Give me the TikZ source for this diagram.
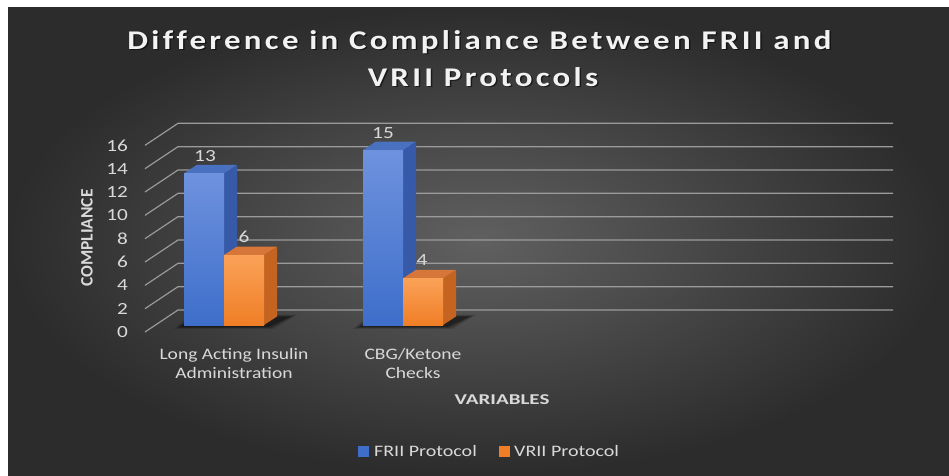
\documentclass[tikz,border=0pt]{standalone}
\usepackage{fontspec}
\usepackage{graphicx}
\setmainfont{Carlito}
\newfontfamily\titlefont[LetterSpace=10,Ligatures={NoCommon}]{Carlito}
\newcommand{\sx}[2]{\scalebox{#1}[1]{#2}}
\definecolor{bgin}{RGB}{96,96,96}
\definecolor{bgout}{RGB}{44,44,44}
\definecolor{gridc}{RGB}{155,155,155}
\definecolor{txt}{RGB}{217,217,217}
\definecolor{ttl}{RGB}{242,242,242}
\definecolor{bfrontT}{RGB}{110,146,222}
\definecolor{bfrontB}{RGB}{62,110,202}
\definecolor{bside}{RGB}{54,90,168}
\definecolor{btop}{RGB}{74,112,192}
\definecolor{ofrontT}{RGB}{250,162,88}
\definecolor{ofrontB}{RGB}{240,126,38}
\definecolor{oside}{RGB}{196,100,32}
\definecolor{otop}{RGB}{214,118,56}
\begin{document}
\begin{tikzpicture}[x=1pt,y=-1pt,
  gridline/.style={draw=gridc,line width=1.2pt},
  ticklbl/.style={anchor=east,text=txt,font=\fontsize{17}{20}\selectfont,inner sep=0pt},
  datalbl/.style={text=txt,font=\fontsize{17}{20}\selectfont,inner sep=0pt},
  catlbl/.style={text=txt,font=\fontsize{16}{19}\selectfont,anchor=base,inner sep=0pt},
  axttl/.style={text=txt,font=\bfseries\fontsize{15}{18}\selectfont,inner sep=0pt},
  legtxt/.style={text=txt,font=\fontsize{16}{19}\selectfont,anchor=west,inner sep=0pt},
  ttlstyle/.style={font=\titlefont\bfseries\fontsize{27}{32}\selectfont,anchor=base,inner sep=0pt}
]
\useasboundingbox (0,0) rectangle (949,475);
\fill[white] (0,0) rectangle (949,475);
\shade[inner color=bgin,outer color=bgout] (8,7) rectangle (949,475);

% grid
\foreach \v in {0,2,...,16}{
  \pgfmathsetmacro{\yf}{332-\v*11.667}
  \pgfmathsetmacro{\yb}{310-\v*11.667}
  \draw[gridline] (145,\yf) -- (178,\yb) -- (893,\yb);
  \node[ticklbl] (t\v) at (128,\yf) {\sx{1.25}{\v}};
}

% shadows
\foreach \xa in {184,363}{
  \foreach \e/\o in {6/0.12,4/0.15,2/0.2,0/0.25}{
    \fill[black,opacity=\o] (\xa-4-\e,327+\e*0.3) -- (\xa+80+4+\e,327+\e*0.3) -- (\xa+80+13+14+\e,316.5-\e*0.3) -- (\xa+13-\e,316.5-\e*0.3) -- cycle;
  }
}

% bars: x1, x2, top, colour prefix
\newcommand{\mybar}[5]{%
  \fill[#4side] (#2,325) -- (#2+13,316.5) -- (#2+13,#3-8.5) -- (#2,#3) -- cycle;
  \fill[#4top] (#1,#3) -- (#1+13,#3-8.5) -- (#2+13,#3-8.5) -- (#2,#3) -- cycle;
  \shade[top color=#4frontT,bottom color=#4frontB] (#1,#3) rectangle (#2,325);
}
\mybar{184}{224}{173.3}{b}{}
\mybar{224}{264}{255}{o}{}
\mybar{363}{403}{150}{b}{}
\mybar{403}{443}{278.3}{o}{}

% data labels
\node[datalbl] (d1) at (205,156) {\sx{1.25}{13}};
\node[datalbl] (d2) at (244,237) {\sx{1.25}{6}};
\node[datalbl] (d3) at (383,133) {\sx{1.25}{15}};
\node[datalbl] (d4) at (422,260) {\sx{1.25}{4}};

% category labels
\node[catlbl] (c1a) at (234,359) {\sx{1.22}{Long Acting Insulin}};
\node[catlbl] (c1b) at (234,378) {\sx{1.22}{Administration}};
\node[catlbl] (c2a) at (413,359) {\sx{1.22}{CBG/Ketone}};
\node[catlbl] (c2b) at (413,378) {\sx{1.22}{Checks}};

% axis titles
\node[axttl,rotate=90,font=\bfseries\fontsize{17.5}{20}\selectfont] (yt) at (87,238) {COMPLIANCE};
\node[axttl] (xt) at (502,400) {\sx{1.4}{VARIABLES}};

% title with shadow
\foreach \dx/\col/\op in {1.5/black/0.55}{
  \node[ttlstyle,text=\col,opacity=\op] at (479.5+\dx,49+\dx) {\sx{1.22}{Difference in Compliance Between FRII and}};
  \node[ttlstyle,text=\col,opacity=\op] at (483+\dx,86+\dx) {\sx{1.22}{VRII Protocols}};
}
\node[ttlstyle,text=ttl] (title1) at (479.5,49) {\sx{1.22}{Difference in Compliance Between FRII and}};
\node[ttlstyle,text=ttl] (title2) at (483,86) {\sx{1.22}{VRII Protocols}};

% legend
\fill[bfrontB] (358,446) rectangle (369,457);
\node[legtxt] (l1) at (374,451) {\sx{1.25}{FRII Protocol}};
\fill[ofrontB] (499,446) rectangle (510,457);
\node[legtxt] (l2) at (514,451) {\sx{1.25}{VRII Protocol}};
\end{tikzpicture}
\end{document}
